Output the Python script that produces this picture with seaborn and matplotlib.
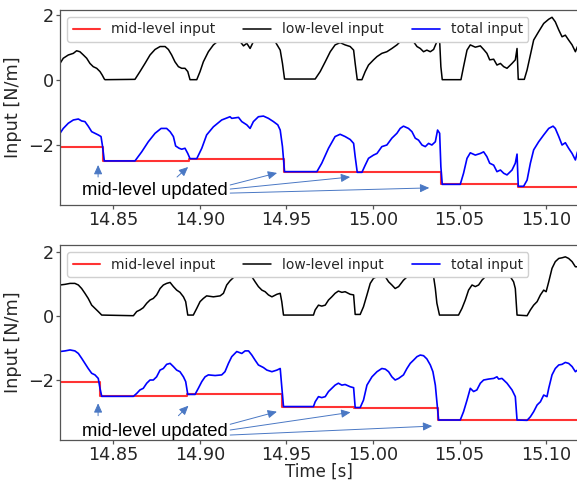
import matplotlib
matplotlib.use("Agg")
import matplotlib.pyplot as plt
import seaborn as sns
import pandas as pd

# ---------------- data ----------------
# top panel
top_mid_t = [14.8192, 14.8441, 14.8938, 14.9488, 14.9890, 15.0390, 15.0840, 15.1185]
top_mid_v = [-2.07, -2.49, -2.42, -2.82, -2.84, -3.21, -3.28, -3.28]

top_low_t = [14.8192, 14.8211, 14.8240, 14.8269, 14.8288, 14.8307, 14.8327, 14.8346, 14.8365, 14.8384,
             14.8404, 14.8423, 14.8436, 14.8448, 14.8452, 14.8625, 14.8654, 14.8683, 14.8712, 14.8741,
             14.8770, 14.8799, 14.8818, 14.8837, 14.8856, 14.8876, 14.8895, 14.8914, 14.8930, 14.8943,
             14.8982, 14.9001, 14.9020, 14.9049, 14.9078, 14.9107, 14.9126, 14.9174, 14.9203, 14.9233,
             14.9252, 14.9271, 14.9290, 14.9309, 14.9338, 14.9367, 14.9396, 14.9435, 14.9464, 14.9477,
             14.9489, 14.9666, 14.9695, 14.9724, 14.9753, 14.9781, 14.9810, 14.9839, 14.9868, 14.9888,
             14.9897, 14.9909, 14.9936, 14.9955, 14.9974, 15.0003, 15.0023, 15.0051, 15.0080, 15.0109,
             15.0138, 15.0157, 15.0176, 15.0205, 15.0234, 15.0254, 15.0273, 15.0292, 15.0311, 15.0331,
             15.0350, 15.0369, 15.0385, 15.0392, 15.0400, 15.0508, 15.0523, 15.0543, 15.0562, 15.0591,
             15.0620, 15.0639, 15.0658, 15.0674, 15.0697, 15.0716, 15.0736, 15.0755, 15.0774, 15.0803,
             15.0822, 15.0832, 15.0839, 15.0874, 15.0890, 15.0909, 15.0928, 15.0957, 15.0986, 15.1015,
             15.1034, 15.1053, 15.1073, 15.1092, 15.1111, 15.1130, 15.1150, 15.1169, 15.1181]
top_low_v = [0.51, 0.67, 0.77, 0.82, 0.90, 0.87, 0.77, 0.67, 0.51, 0.41,
             0.36, 0.26, 0.15, 0.03, 0.01, 0.02, 0.26, 0.51, 0.77, 0.94,
             1.03, 1.03, 0.94, 0.77, 0.56, 0.41, 0.36, 0.36, 0.26, 0.01,
             0.01, 0.26, 0.56, 0.87, 1.08, 1.21, 1.19, 1.29, 1.27, 1.18,
             1.05, 1.13, 0.97, 1.18, 1.29, 1.31, 1.24, 1.18, 0.92, 0.51,
             0.03, 0.03, 0.26, 0.56, 0.87, 1.08, 1.15, 1.08, 1.03, 0.92,
             0.51, 0.01, 0.01, 0.26, 0.46, 0.62, 0.72, 0.82, 0.87, 0.97,
             1.08, 1.18, 1.42, 1.35, 1.18, 1.03, 0.97, 0.87, 0.92, 0.87,
             0.94, 1.18, 1.20, 0.41, 0.01, 0.01, 0.41, 0.92, 1.08, 1.01,
             1.05, 0.94, 0.82, 0.62, 0.64, 0.46, 0.51, 0.41, 0.36, 0.51,
             0.62, 0.97, 0.02, 0.02, 0.31, 0.77, 1.23, 1.49, 1.74, 1.87,
             1.93, 1.79, 1.54, 1.33, 1.38, 1.23, 1.08, 0.87, 1.03]

top_total_t = [14.8192, 14.8211, 14.8240, 14.8269, 14.8298, 14.8317, 14.8336, 14.8355, 14.8375, 14.8394,
               14.8413, 14.8429, 14.8438, 14.8448, 14.8625, 14.8664, 14.8702, 14.8741, 14.8776, 14.8808,
               14.8828, 14.8847, 14.8860, 14.8880, 14.8895, 14.8914, 14.8930, 14.8943, 14.8982, 14.9011,
               14.9039, 14.9078, 14.9126, 14.9174, 14.9184, 14.9223, 14.9242, 14.9271, 14.9290, 14.9309,
               14.9338, 14.9367, 14.9396, 14.9425, 14.9450, 14.9464, 14.9477, 14.9489, 14.9676, 14.9704,
               14.9743, 14.9781, 14.9810, 14.9839, 14.9868, 14.9888, 14.9897, 14.9909, 14.9936, 14.9955,
               14.9974, 15.0003, 15.0023, 15.0051, 15.0080, 15.0109, 15.0138, 15.0157, 15.0176, 15.0205,
               15.0225, 15.0244, 15.0263, 15.0283, 15.0302, 15.0321, 15.0340, 15.0360, 15.0373, 15.0385,
               15.0392, 15.0400, 15.0504, 15.0523, 15.0543, 15.0562, 15.0591, 15.0620, 15.0639, 15.0658,
               15.0674, 15.0697, 15.0716, 15.0736, 15.0755, 15.0774, 15.0803, 15.0822, 15.0832, 15.0839,
               15.0870, 15.0890, 15.0909, 15.0928, 15.0957, 15.0986, 15.1015, 15.1040, 15.1053, 15.1073,
               15.1092, 15.1111, 15.1130, 15.1150, 15.1169, 15.1181]
top_total_v = [-1.64, -1.49, -1.33, -1.23, -1.20, -1.26, -1.28, -1.42, -1.59, -1.64,
               -1.69, -1.74, -2.05, -2.49, -2.49, -2.21, -1.90, -1.64, -1.49, -1.49,
               -1.59, -1.74, -2.03, -2.10, -2.13, -2.10, -2.26, -2.42, -2.42, -2.10,
               -1.69, -1.44, -1.23, -1.13, -1.18, -1.15, -1.28, -1.38, -1.49, -1.28,
               -1.13, -1.11, -1.18, -1.28, -1.38, -1.54, -2.05, -2.82, -2.82, -2.56,
               -2.10, -1.74, -1.67, -1.74, -1.83, -1.95, -2.36, -2.84, -2.84, -2.62,
               -2.41, -2.31, -2.26, -2.05, -2.00, -1.79, -1.64, -1.49, -1.42, -1.49,
               -1.59, -1.79, -1.85, -2.00, -2.05, -1.95, -2.00, -1.90, -1.54, -1.64,
               -2.67, -3.21, -3.21, -2.87, -2.41, -2.24, -2.31, -2.26, -2.21, -2.36,
               -2.56, -2.62, -2.82, -2.77, -2.87, -2.92, -2.77, -2.56, -2.28, -3.27,
               -3.27, -3.08, -2.56, -2.15, -1.90, -1.69, -1.49, -1.42, -1.49, -1.74,
               -2.00, -1.93, -2.10, -2.26, -2.46, -2.21]

# bottom panel
bot_mid_t = [14.8192, 14.8423, 14.8924, 14.9477, 14.9890, 15.0373, 15.0835, 15.1185]
bot_mid_v = [-2.05, -2.50, -2.43, -2.83, -2.86, -3.25, -3.26, -3.26]

bot_low_t = [14.8192, 14.8221, 14.8250, 14.8278, 14.8298, 14.8317, 14.8336, 14.8355, 14.8375, 14.8394,
             14.8413, 14.8433, 14.8616, 14.8635, 14.8654, 14.8673, 14.8693, 14.8712, 14.8731, 14.8750,
             14.8770, 14.8789, 14.8808, 14.8828, 14.8847, 14.8866, 14.8885, 14.8905, 14.8918, 14.8930,
             14.8962, 14.8982, 14.9001, 14.9020, 14.9039, 14.9078, 14.9117, 14.9136, 14.9155, 14.9174,
             14.9203, 14.9242, 14.9281, 14.9300, 14.9319, 14.9338, 14.9358, 14.9377, 14.9396, 14.9416,
             14.9445, 14.9464, 14.9473, 14.9483, 14.9656, 14.9666, 14.9685, 14.9704, 14.9724, 14.9743,
             14.9762, 14.9781, 14.9800, 14.9820, 14.9839, 14.9868, 14.9888, 14.9897, 14.9926, 14.9945,
             14.9965, 14.9984, 15.0003, 15.0023, 15.0051, 15.0071, 15.0090, 15.0109, 15.0128, 15.0148,
             15.0176, 15.0196, 15.0234, 15.0273, 15.0311, 15.0331, 15.0350, 15.0360, 15.0369, 15.0384,
             15.0494, 15.0514, 15.0533, 15.0552, 15.0572, 15.0591, 15.0610, 15.0629, 15.0649, 15.0697,
             15.0745, 15.0793, 15.0812, 15.0822, 15.0832, 15.0890, 15.0909, 15.0928, 15.0948, 15.0967,
             15.0986, 15.1000, 15.1015, 15.1034, 15.1053, 15.1073, 15.1092, 15.1111, 15.1130, 15.1150,
             15.1169, 15.1181]
bot_low_v = [0.97, 0.99, 1.02, 1.02, 0.97, 0.86, 0.71, 0.55, 0.34, 0.24,
             0.14, 0.03, 0.01, 0.14, 0.19, 0.26, 0.40, 0.50, 0.55, 0.66,
             0.86, 0.97, 1.02, 1.05, 0.92, 0.81, 0.74, 0.60, 0.45, 0.03,
             0.03, 0.24, 0.45, 0.55, 0.63, 0.60, 0.63, 0.71, 0.97, 1.10,
             1.25, 1.26, 1.34, 1.23, 1.07, 0.92, 0.81, 0.76, 0.66, 0.60,
             0.68, 0.71, 0.45, 0.03, 0.03, 0.19, 0.34, 0.31, 0.34, 0.50,
             0.60, 0.71, 0.78, 0.74, 0.76, 0.68, 0.66, 0.05, 0.05, 0.29,
             0.66, 1.02, 1.18, 1.23, 1.28, 1.23, 1.07, 0.97, 0.86, 0.92,
             1.12, 1.22, 1.48, 1.64, 1.52, 1.33, 1.23, 0.86, 0.40, 0.03,
             0.03, 0.24, 0.50, 0.81, 0.97, 0.92, 0.97, 1.12, 1.23, 1.30,
             1.30, 1.23, 1.07, 0.86, 0.03, 0.01, 0.19, 0.34, 0.45, 0.66,
             0.81, 0.76, 1.07, 1.49, 1.70, 1.80, 1.82, 1.85, 1.80, 1.70,
             1.54, 1.54]

bot_total_t = [14.8192, 14.8221, 14.8250, 14.8278, 14.8298, 14.8317, 14.8336, 14.8355, 14.8375, 14.8394,
               14.8413, 14.8423, 14.8433, 14.8616, 14.8635, 14.8654, 14.8673, 14.8693, 14.8712, 14.8731,
               14.8750, 14.8770, 14.8789, 14.8808, 14.8828, 14.8847, 14.8866, 14.8885, 14.8905, 14.8918,
               14.8930, 14.8972, 14.8991, 14.9011, 14.9030, 14.9049, 14.9088, 14.9126, 14.9145, 14.9165,
               14.9184, 14.9213, 14.9242, 14.9261, 14.9281, 14.9300, 14.9319, 14.9338, 14.9367, 14.9387,
               14.9416, 14.9445, 14.9464, 14.9473, 14.9483, 14.9656, 14.9666, 14.9685, 14.9704, 14.9724,
               14.9743, 14.9762, 14.9781, 14.9800, 14.9820, 14.9839, 14.9868, 14.9888, 14.9897, 14.9926,
               14.9945, 14.9965, 14.9994, 15.0023, 15.0051, 15.0071, 15.0090, 15.0109, 15.0128, 15.0148,
               15.0176, 15.0196, 15.0215, 15.0234, 15.0254, 15.0273, 15.0292, 15.0311, 15.0331, 15.0346,
               15.0360, 15.0369, 15.0379, 15.0504, 15.0523, 15.0543, 15.0562, 15.0581, 15.0600, 15.0620,
               15.0639, 15.0668, 15.0697, 15.0716, 15.0726, 15.0745, 15.0774, 15.0803, 15.0822, 15.0832,
               15.0890, 15.0909, 15.0928, 15.0948, 15.0967, 15.0986, 15.1005, 15.1015, 15.1034, 15.1053,
               15.1073, 15.1092, 15.1111, 15.1130, 15.1150, 15.1169, 15.1181]
bot_total_v = [-1.11, -1.09, -1.06, -1.09, -1.17, -1.32, -1.48, -1.64, -1.79, -1.84,
               -1.95, -2.26, -2.51, -2.51, -2.42, -2.31, -2.26, -2.10, -2.00, -2.00,
               -1.90, -1.69, -1.64, -1.51, -1.48, -1.58, -1.69, -1.74, -1.90, -2.05,
               -2.45, -2.45, -2.26, -2.05, -1.90, -1.84, -1.86, -1.84, -1.74, -1.48,
               -1.27, -1.11, -1.17, -1.09, -1.09, -1.22, -1.38, -1.53, -1.61, -1.69,
               -1.74, -1.69, -1.64, -2.21, -2.83, -2.83, -2.68, -2.52, -2.55, -2.52,
               -2.36, -2.26, -2.16, -2.10, -2.16, -2.14, -2.21, -2.24, -2.86, -2.86,
               -2.63, -2.16, -1.90, -1.74, -1.64, -1.66, -1.74, -1.90, -2.00, -1.95,
               -1.84, -1.64, -1.48, -1.38, -1.27, -1.22, -1.24, -1.34, -1.53, -1.74,
               -2.16, -2.68, -3.25, -3.25, -2.99, -2.63, -2.26, -2.36, -2.31, -2.10,
               -2.00, -1.97, -1.95, -1.90, -1.97, -1.95, -2.10, -2.31, -2.52, -3.25,
               -3.26, -3.15, -2.99, -2.78, -2.68, -2.47, -2.52, -2.26, -1.84, -1.64,
               -1.53, -1.51, -1.45, -1.48, -1.58, -1.74, -1.69]

x_ticks = [14.85, 14.90, 14.95, 15.00, 15.05, 15.10]
y_ticks = [-2, 0, 2]
series_labels = ["mid-level input", "low-level input", "total input"]
annot_text = "mid-level updated"

# annotation geometry (data coordinates): text position, arrow tails, arrow tips
top_text_pos = (14.8741, -3.40)
top_arrow_tails = [(14.8412, -2.985), (14.8868, -2.985), (14.9175, -3.23), (14.9175, -3.355), (14.9175, -3.48)]
top_arrow_tips = [(14.8412, -2.615), (14.8932, -2.677), (14.9446, -2.86), (14.9868, -2.985), (15.0325, -3.32)]
bot_text_pos = (14.8741, -3.594)
bot_arrow_tails = [(14.8412, -3.116), (14.8876, -3.116), (14.9175, -3.384), (14.9175, -3.5625), (14.9175, -3.72)]
bot_arrow_tips = [(14.8412, -2.728), (14.8934, -2.803), (14.9445, -2.99), (14.9870, -3.01), (15.0342, -3.44)]

# ---------------- figure ----------------
sns.set_style("white")
plt.rcParams["font.family"] = ["DejaVu Sans"]

fig = plt.figure(figsize=(5.77, 4.8), dpi=100)
ax_top = fig.add_axes([60 / 577, 1 - 205 / 480, 517 / 577 + 0.002, 195 / 480])
ax_bot = fig.add_axes([60 / 577, 1 - 440 / 480, 517 / 577 + 0.002, 195 / 480])

arrow_color = "#4a78c4"
spine_color = "#555555"


def draw_panel(ax, mid_t, mid_v, low_t, low_v, tot_t, tot_v, ylim, text_pos, tails, tips):
    df_mid = pd.DataFrame({"t": mid_t, "v": mid_v})
    df_low = pd.DataFrame({"t": low_t, "v": low_v})
    df_tot = pd.DataFrame({"t": tot_t, "v": tot_v})
    sns.lineplot(data=df_mid, x="t", y="v", ax=ax, color="red", alpha=0.8, lw=1.5,
                 drawstyle="steps-post", estimator=None, sort=False, label=series_labels[0])
    sns.lineplot(data=df_low, x="t", y="v", ax=ax, color="black", lw=1.1,
                 estimator=None, sort=False, label=series_labels[1])
    sns.lineplot(data=df_tot, x="t", y="v", ax=ax, color="blue", lw=1.2,
                 estimator=None, sort=False, label=series_labels[2])
    ax.set_xlim(14.8192, 15.1185)
    ax.set_ylim(*ylim)
    ax.set_xticks(x_ticks)
    ax.set_xticklabels([f"{v:.2f}" for v in x_ticks])
    ax.set_yticks(y_ticks)
    ax.tick_params(axis="both", labelsize=12.7, direction="out", length=3,
                   width=0.9, color=spine_color, bottom=True, left=True, pad=1.5)
    for s in ax.spines.values():
        s.set_visible(True)
        s.set_color(spine_color)
        s.set_linewidth(0.9)
    ax.set_ylabel("Input [N/m]", fontsize=12.7, labelpad=4)
    ax.set_xlabel("")
    leg = ax.legend(loc="upper left", ncol=3, fontsize=10, framealpha=1.0,
                    edgecolor="#d0d0d0", fancybox=True)
    leg.set_zorder(10)
    ax.text(text_pos[0], text_pos[1], annot_text, ha="center", va="center",
            fontsize=13.3, family=["Liberation Sans", "DejaVu Sans"], color="black")
    for tail, tip in zip(tails, tips):
        ax.annotate("", xy=tip, xytext=tail,
                    arrowprops=dict(arrowstyle="-|>,head_length=0.55,head_width=0.25",
                                    color=arrow_color, lw=0.7, mutation_scale=10,
                                    shrinkA=0, shrinkB=0))


draw_panel(ax_top, top_mid_t, top_mid_v, top_low_t, top_low_v, top_total_t, top_total_v,
           (-3.846, 2.154), top_text_pos, top_arrow_tails, top_arrow_tips)
draw_panel(ax_bot, bot_mid_t, bot_mid_v, bot_low_t, bot_low_v, bot_total_t, bot_total_v,
           (-3.875, 2.22), bot_text_pos, bot_arrow_tails, bot_arrow_tips)
ax_bot.set_xlabel("Time [s]", fontsize=12)
ax_bot.xaxis.set_label_coords(0.5, -0.117)

fig.savefig("out.png", dpi=100)
